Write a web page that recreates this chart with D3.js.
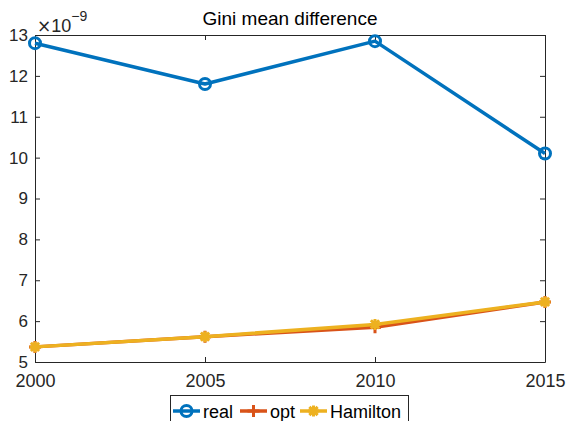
<!DOCTYPE html>
<html>
<head>
<meta charset="utf-8">
<script src="https://cdn.jsdelivr.net/npm/d3@7"></script>
<style>
  body { margin: 0; background: #fff; }
  svg { font-family: "Liberation Sans", Arial, sans-serif; }
</style>
</head>
<body>
<svg id="chart" width="571" height="421"></svg>
<script>
// chart data (values in units of 1e-9)
const years = [2000, 2005, 2010, 2015];
const realValues = [12.8, 11.8, 12.85, 10.1];
const optValues = [5.37, 5.62, 5.85, 6.47];
const hamiltonValues = [5.37, 5.62, 5.92, 6.47];
const yTicks = [5, 6, 7, 8, 9, 10, 11, 12, 13];
const seriesNames = ['real', 'opt', 'Hamilton'];
const seriesColors = ['#0072BD', '#D95319', '#EDB120'];

const margin = { top: 35, right: 26, bottom: 59, left: 35 };
const width = 571 - margin.left - margin.right;
const height = 421 - margin.top - margin.bottom;
const axisColor = '#262626';

const svg = d3.select('#chart');
const g = svg.append('g').attr('transform', `translate(${margin.left},${margin.top})`);

const x = d3.scaleLinear().domain([2000, 2015]).range([0, width]);
const y = d3.scaleLinear().domain([5, 13]).range([height, 0]);

// axes (MATLAB style: inward ticks, box)
const styleAxis = (sel, size) => {
  sel.select('.domain').attr('stroke', axisColor).attr('stroke-width', 1);
  sel.selectAll('.tick line').attr('stroke', axisColor);
  sel.selectAll('.tick text').attr('fill', axisColor).style('font-size', size + 'px')
    .style('font-family', '"Liberation Sans", Arial, sans-serif');
};

g.append('g').attr('transform', `translate(0,${height})`)
  .call(d3.axisBottom(x).tickValues(years).tickFormat(d3.format('d')).tickSizeInner(-5).tickSizeOuter(0).tickPadding(12))
  .call(styleAxis, 18);
g.append('g')
  .call(d3.axisTop(x).tickValues(years).tickFormat('').tickSizeInner(-5).tickSizeOuter(0))
  .call(styleAxis, 18);
g.append('g')
  .call(d3.axisLeft(y).tickValues(yTicks).tickSizeInner(-5).tickSizeOuter(0).tickPadding(7))
  .call(styleAxis, 17);
g.append('g').attr('transform', `translate(${width},0)`)
  .call(d3.axisRight(y).tickValues(yTicks).tickFormat('').tickSizeInner(-5).tickSizeOuter(0))
  .call(styleAxis, 17);

// exponent label
const expo = g.append('text').attr('x', 2).attr('y', -3).attr('fill', axisColor).style('font-size', '18px');
expo.append('tspan').style('font-family', '"DejaVu Sans", sans-serif').style('font-size', '17px').text('×');
expo.append('tspan').text('10');
expo.append('tspan').attr('dy', -11).style('font-size', '14px').text('−9');

// title
svg.append('text')
  .attr('x', margin.left + width / 2)
  .attr('y', 25)
  .attr('text-anchor', 'middle')
  .attr('fill', '#000')
  .style('font-size', '19px')
  .text('Gini mean difference');

// lines
const line = d3.line().x((d, i) => x(years[i])).y(d => y(d));
const allSeries = [realValues, optValues, hamiltonValues];

function drawMarker(sel, type, color, cx, cy) {
  if (type === 0) {
    sel.append('circle').attr('cx', cx).attr('cy', cy).attr('r', 5.5)
      .attr('fill', 'none').attr('stroke', color).attr('stroke-width', 3);
  } else if (type === 1) {
    sel.append('path').attr('d', `M${cx - 6},${cy}H${cx + 6}M${cx},${cy - 6}V${cy + 6}`)
      .attr('stroke', color).attr('stroke-width', 3);
  } else {
    const r = 5.5, d = r * 0.75;
    sel.append('path')
      .attr('d', `M${cx - r},${cy}H${cx + r}M${cx},${cy - r}V${cy + r}M${cx - d},${cy - d}L${cx + d},${cy + d}M${cx - d},${cy + d}L${cx + d},${cy - d}`)
      .attr('stroke', color).attr('stroke-width', 3);
  }
}

allSeries.forEach((vals, s) => {
  g.append('path').datum(vals).attr('d', line)
    .attr('fill', 'none').attr('stroke', seriesColors[s]).attr('stroke-width', 3.5)
    .attr('stroke-linejoin', 'round');
  const mg = g.append('g');
  vals.forEach((v, i) => drawMarker(mg, s, seriesColors[s], x(years[i]), y(v)));
});

// legend
const legend = svg.append('g');
legend.append('rect').attr('x', 170.5).attr('y', 395.5).attr('width', 238).attr('height', 30)
  .attr('fill', '#fff').attr('stroke', axisColor).attr('stroke-width', 1);
const legendX = [173, 240, 300];
seriesNames.forEach((name, s) => {
  const lx = legendX[s], ly = 411;
  legend.append('line').attr('x1', lx).attr('x2', lx + 27).attr('y1', ly).attr('y2', ly)
    .attr('stroke', seriesColors[s]).attr('stroke-width', 3.5);
  drawMarker(legend, s, seriesColors[s], lx + 13.5, ly);
  legend.append('text').attr('x', lx + 30).attr('y', ly + 6.5).attr('fill', '#000')
    .style('font-size', '18px').text(name);
});
</script>
</body>
</html>
